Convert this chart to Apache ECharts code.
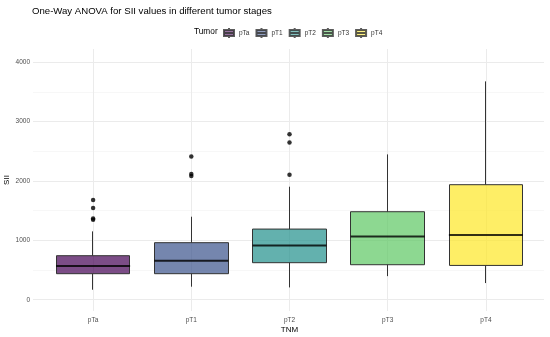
<!DOCTYPE html>
<html>
<head>
<meta charset="utf-8">
<script src="https://cdn.jsdelivr.net/npm/echarts@6/dist/echarts.min.js"></script>
<style>html,body{margin:0;padding:0;background:#fff}#c{width:550px;height:337px}</style>
</head>
<body>
<div id="c"></div>
<script>
// ---- data ----
const categories = ['pTa', 'pT1', 'pT2', 'pT3', 'pT4'];
const q1 = [438, 438, 623, 589, 577];
const median = [566, 657, 914, 1066, 1088];
const q3 = [741, 960, 1189, 1481, 1936];
const whiskerLow = [168, 219, 207, 397, 280];
const whiskerHigh = [1150, 1397, 1902, 2446, 3675];
const outlierCats = ['pTa', 'pTa', 'pTa', 'pTa', 'pT1', 'pT1', 'pT1', 'pT2', 'pT2', 'pT2'];
const outlierVals = [1677, 1542, 1369, 1347, 2412, 2115, 2082, 2783, 2648, 2104];
const yTicks = [0, 1000, 2000, 3000, 4000];
const yMinorTicks = [500, 1500, 2500, 3500];

// ---- styles ----
const palette = ['rgba(68,1,84,0.7)', 'rgba(59,82,139,0.7)', 'rgba(33,144,140,0.7)', 'rgba(93,200,99,0.7)', 'rgba(253,231,37,0.7)'];
const FONT = 'Liberation Sans, Arial, sans-serif';
const BOXW = 74;

const chart = echarts.init(document.getElementById('c'), null, {renderer: 'canvas'});

const series = [
  {
    type: 'line', xAxisIndex: 0, yAxisIndex: 0, data: [], silent: true,
    markLine: {
      silent: true, symbol: ['none', 'none'], label: {show: false}, z: 0, animation: false,
      data: yTicks.map(v => ({yAxis: v, lineStyle: {color: '#ebebeb', width: 1, type: 'solid'}}))
        .concat(yMinorTicks.map(v => ({yAxis: v, lineStyle: {color: '#f3f3f3', width: 0.7, type: 'solid'}})))
    }
  },
  {
    type: 'line', xAxisIndex: 1, yAxisIndex: 1, data: [], silent: true,
    markLine: {
      silent: true, symbol: ['none', 'none'], label: {show: false}, z: 0, animation: false,
      data: categories.map(c => ({xAxis: c, lineStyle: {color: '#ebebeb', width: 1, type: 'solid'}}))
    }
  },
  {
    type: 'candlestick', name: 'box', xAxisIndex: 1, yAxisIndex: 1,
    barWidth: BOXW, barMaxWidth: 200, z: 2,
    data: categories.map((c, i) => ({
      value: [q1[i], q3[i], whiskerLow[i], whiskerHigh[i]],
      itemStyle: {color: palette[i], color0: palette[i], borderColor: '#333333', borderColor0: '#333333', borderWidth: 1}
    }))
  },
  {
    type: 'scatter', name: 'median', xAxisIndex: 1, yAxisIndex: 1, z: 3,
    symbol: 'rect', symbolSize: [BOXW, 2],
    itemStyle: {color: '#000'},
    data: categories.map((c, i) => [c, median[i]])
  },
  {
    type: 'scatter', name: 'outliers', xAxisIndex: 1, yAxisIndex: 1, z: 4,
    symbol: 'circle', symbolSize: 4.5,
    itemStyle: {color: '#000'},
    data: outlierCats.map((c, i) => [c, outlierVals[i]])
  }
].concat(categories.map((c, i) => ({
  type: 'scatter', name: c, xAxisIndex: 1, yAxisIndex: 1, data: [],
  itemStyle: {color: palette[i], borderColor: '#333333', borderWidth: 0.8}
})));

chart.setOption({
  animation: false,
  textStyle: {fontFamily: FONT},
  title: [
    {text: 'One-Way ANOVA for SII values in different tumor stages', left: 32, top: 6, padding: 0,
     textStyle: {fontSize: 9.6, fontWeight: 'normal', color: '#000', fontFamily: FONT}},
    {text: 'Tumor', left: 194, top: 28, padding: 0,
     textStyle: {fontSize: 8.3, fontWeight: 'normal', color: '#000', fontFamily: FONT}}
  ],
  legend: {
    data: categories, left: 223, top: 27, padding: 0,
    itemWidth: 10, itemHeight: 10, itemGap: 6,
    icon: 'path://M5,0L5,2M0,2L10,2L10,8L0,8ZM0,5L10,5M5,8L5,10',
    textStyle: {fontSize: 6.5, color: '#333', fontFamily: FONT}
  },
  grid: [
    {left: 33, right: 6, top: 49, bottom: 26, containLabel: false, outerBoundsMode: 'none'},
    {left: 44, right: 15, top: 49, bottom: 26, containLabel: false, outerBoundsMode: 'none'}
  ],
  xAxis: [
    {gridIndex: 0, type: 'value', min: 0, max: 1, show: false},
    {gridIndex: 1, type: 'category', data: categories,
     axisLine: {show: false}, axisTick: {show: false}, splitLine: {show: false},
     axisLabel: {fontSize: 6.5, color: '#4d4d4d', margin: 6},
     name: 'TNM', nameLocation: 'middle', nameGap: 14.5, nameMoveOverlap: false,
     nameTextStyle: {fontSize: 8, color: '#000'}}
  ],
  yAxis: [
    {gridIndex: 0, type: 'value', min: -190, max: 4220,
     axisLine: {show: false}, axisTick: {show: false}, splitLine: {show: false},
     axisLabel: {customValues: yTicks, fontSize: 6.5, color: '#4d4d4d', margin: 3,
                 formatter: v => String(v)},
     name: 'SII', nameLocation: 'middle', nameGap: 22, nameMoveOverlap: false,
     nameTextStyle: {fontSize: 8, color: '#000'}},
    {gridIndex: 1, type: 'value', min: -190, max: 4220, show: false}
  ],
  series: series
});
</script>
</body>
</html>
